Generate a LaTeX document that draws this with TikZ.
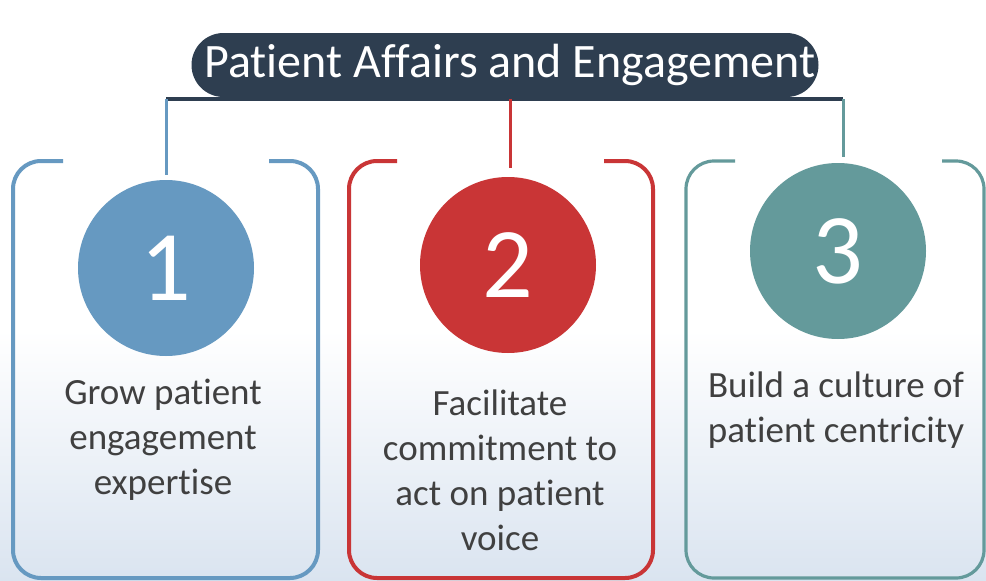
\documentclass[tikz,border=0pt]{standalone}
\usepackage{fontspec}
\setmainfont{Carlito}[RawFeature={-liga}]
\definecolor{navyC}{HTML}{2E3E50}
\definecolor{blueC}{HTML}{6699C1}
\definecolor{redC}{HTML}{C93536}
\definecolor{tealC}{HTML}{649A9B}
\definecolor{txtC}{HTML}{404040}
\definecolor{bgC}{HTML}{DAE4F0}
\tikzset{
  num/.style={circle, minimum size=176pt, inner sep=0pt, text=white, font=\fontsize{100}{100}\selectfont},
  body/.style={align=center, text=txtC, font=\fontsize{37}{45}\selectfont},
  bracketbox/.style={line width=4pt, rounded corners=28pt},
}
\begin{document}
\begin{tikzpicture}[x=1pt,y=-1pt]
\useasboundingbox (0,0) rectangle (986,581);
\fill[white] (0,0) rectangle (986,581);
\shade[top color=white, bottom color=bgC] (0,330) rectangle (986,581);
% title
\node[fill=navyC, rounded corners=32pt, minimum width=627pt, minimum height=64pt, inner sep=0pt,
      text=white, font=\fontsize{48}{48}\selectfont] (title) at (505,65) {\hspace*{10pt}Patient Affairs and Engagement};
% circles
\node[num, fill=blueC] (c1) at (166,268) {1};
\node[num, fill=redC]  (c2) at (508,265) {2};
\node[num, fill=tealC] (c3) at (838,251) {3};
% connector coordinates
\coordinate (h1) at (166,99);
\coordinate (h2) at (510,99);
\coordinate (h3) at (843,99);
\coordinate (e1) at (166,175);
\coordinate (e2) at (510,168);
\coordinate (e3) at (843,157);
\draw[navyC, line width=3.5pt] (h1) -- (h3);
\draw[blueC, line width=3pt] (h1) -- (e1);
\draw[redC, line width=3pt] (h2) -- (e2);
\draw[tealC, line width=3pt] (h3) -- (e3);
% bracket boxes
\draw[bracketbox, blueC] (63,161) -- (13,161) -- (13,578) -- (318,578) -- (318,161) -- (269,161);
\draw[bracketbox, redC] (397,161) -- (349,161) -- (349,578) -- (653,578) -- (653,161) -- (604,161);
\draw[bracketbox, tealC, line width=3.2pt] (735,161) -- (686,161) -- (686,578) -- (984,578) -- (984,161) -- (942,161);
% texts
\node[body] (t1) at (163,440) {Grow patient\\engagement\\expertise};
\node[body] (t2) at (500,470) {Facilitate\\commitment to\\act on patient\\voice};
\node[body] (t3) at (836,410) {Build a culture of\\patient centricity};
\end{tikzpicture}
\end{document}
